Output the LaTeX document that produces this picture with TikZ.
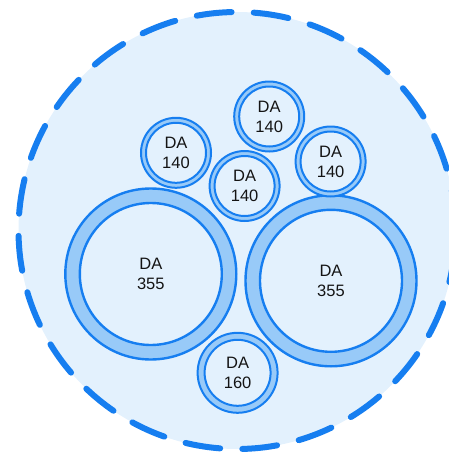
\documentclass[tikz,border=0pt]{standalone}
\usepackage{fontspec}
\setmainfont{Liberation Sans}
\definecolor{bgblue}{RGB}{227,241,253}
\definecolor{lineblue}{RGB}{22,126,240}
\definecolor{ringblue}{RGB}{152,202,248}
\begin{document}
\begin{tikzpicture}[x=1pt,y=-1pt,
  ringouter/.style={circle,draw=lineblue,line width=2pt,fill=ringblue,inner sep=0pt,outer sep=0pt},
  ringinner/.style={circle,draw=lineblue,line width=2pt,fill=bgblue,inner sep=0pt,outer sep=0pt,
    align=center,font=\fontsize{16.5}{20}\selectfont,text=black!92},
  bigring/.style={ringouter,line width=2.4pt,minimum size=171pt},
  biginner/.style={ringinner,line width=2.4pt,minimum size=142pt},
  smallring/.style={ringouter,minimum size=70pt},
  smallinner/.style={ringinner,minimum size=60pt},
  midring/.style={ringouter,minimum size=80pt},
  midinner/.style={ringinner,minimum size=66pt},
  frameline/.style={circle,fill=bgblue,draw=lineblue,line width=6pt,line cap=round,
    dash pattern=on 35pt off 22.2pt,dash phase=51.7pt,inner sep=0pt,outer sep=0pt,minimum size=437pt}]
\useasboundingbox (0,0) rectangle (449,453);
\clip (0,0) rectangle (449,453);
\node[frameline] (frame) at (237,230.5) {};
% big rings
\node[bigring] (L355o) at (150.8,274) {};
\node[biginner] (L355) at (150.8,274) {DA\\355};
\node[bigring] (R355o) at (331,280.8) {};
\node[biginner] (R355) at (331,280.8) {DA\\355};
% small rings
\node[smallring] (T140o) at (269.2,116.5) {};
\node[smallinner] (T140) at (269.2,116.5) {DA\\140};
\node[smallring] (L140o) at (176,152.8) {};
\node[smallinner] (L140) at (176,152.8) {DA\\140};
\node[smallring] (M140o) at (244.6,186) {};
\node[smallinner] (M140) at (244.6,186) {DA\\140};
\node[smallring] (R140o) at (330.6,161.5) {};
\node[smallinner] (R140) at (330.6,161.5) {DA\\140};
% 160
\node[midring] (B160o) at (237.6,372.8) {};
\node[midinner] (B160) at (237.6,372.8) {DA\\160};
\end{tikzpicture}
\end{document}
